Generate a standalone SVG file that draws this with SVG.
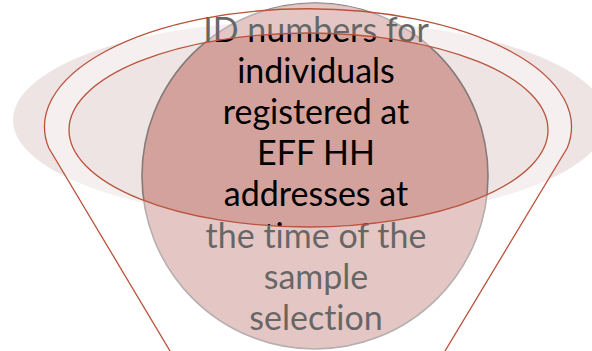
<svg xmlns="http://www.w3.org/2000/svg" width="592" height="351" viewBox="0 0 592 351">
  <style>
    .lbl { font-family: Lato, "Open Sans", sans-serif; font-size: 34px; fill: #000; text-anchor: middle; font-variant-ligatures: none; font-feature-settings: "liga" 0; }
    .rim { fill: none; stroke: #b9533c; stroke-width: 1.3; }
  </style>
  <defs>
    <mask id="veil" maskUnits="userSpaceOnUse" x="0" y="0" width="592" height="351">
      <path d="M 175.4,360 L 48.8,148 A 263.5 118 0 1 1 567.2,148 L 439.6,360 Z" fill="#fff"/>
      <circle cx="315" cy="176" r="173" fill="#fff"/>
      <ellipse cx="308.5" cy="130" rx="239.5" ry="97" fill="#000"/>
    </mask>
  </defs>
  <rect width="592" height="351" fill="#fff"/>
  <g id="background">
    <ellipse cx="310" cy="120" rx="297" ry="100" fill="#efe4e4"/>
  </g>
  <g id="node-circle">
    <circle cx="315" cy="176" r="173" fill="#d3a29d" stroke="#857a7a" stroke-width="1.6"/>
    <text class="lbl" x="316" y="42">ID numbers for</text>
    <text class="lbl" x="316" y="83.1">individuals</text>
    <text class="lbl" x="316" y="124.2">registered at</text>
    <text class="lbl" x="316" y="165.3">EFF HH</text>
    <text class="lbl" x="316" y="206.4">addresses at</text>
    <text class="lbl" x="316" y="247.5">the time of the</text>
    <text class="lbl" x="316" y="288.6">sample</text>
    <text class="lbl" x="316" y="329.7">selection</text>
  </g>
  <g id="funnel">
    <rect width="592" height="351" fill="#fff" fill-opacity="0.4" mask="url(#veil)"/>
    <path class="rim" d="M 175.4,360 L 48.8,148 A 263.5 118 0 1 1 567.2,148 L 439.6,360"/>
    <ellipse class="rim" cx="308.5" cy="130" rx="239.5" ry="97"/>
  </g>
</svg>
